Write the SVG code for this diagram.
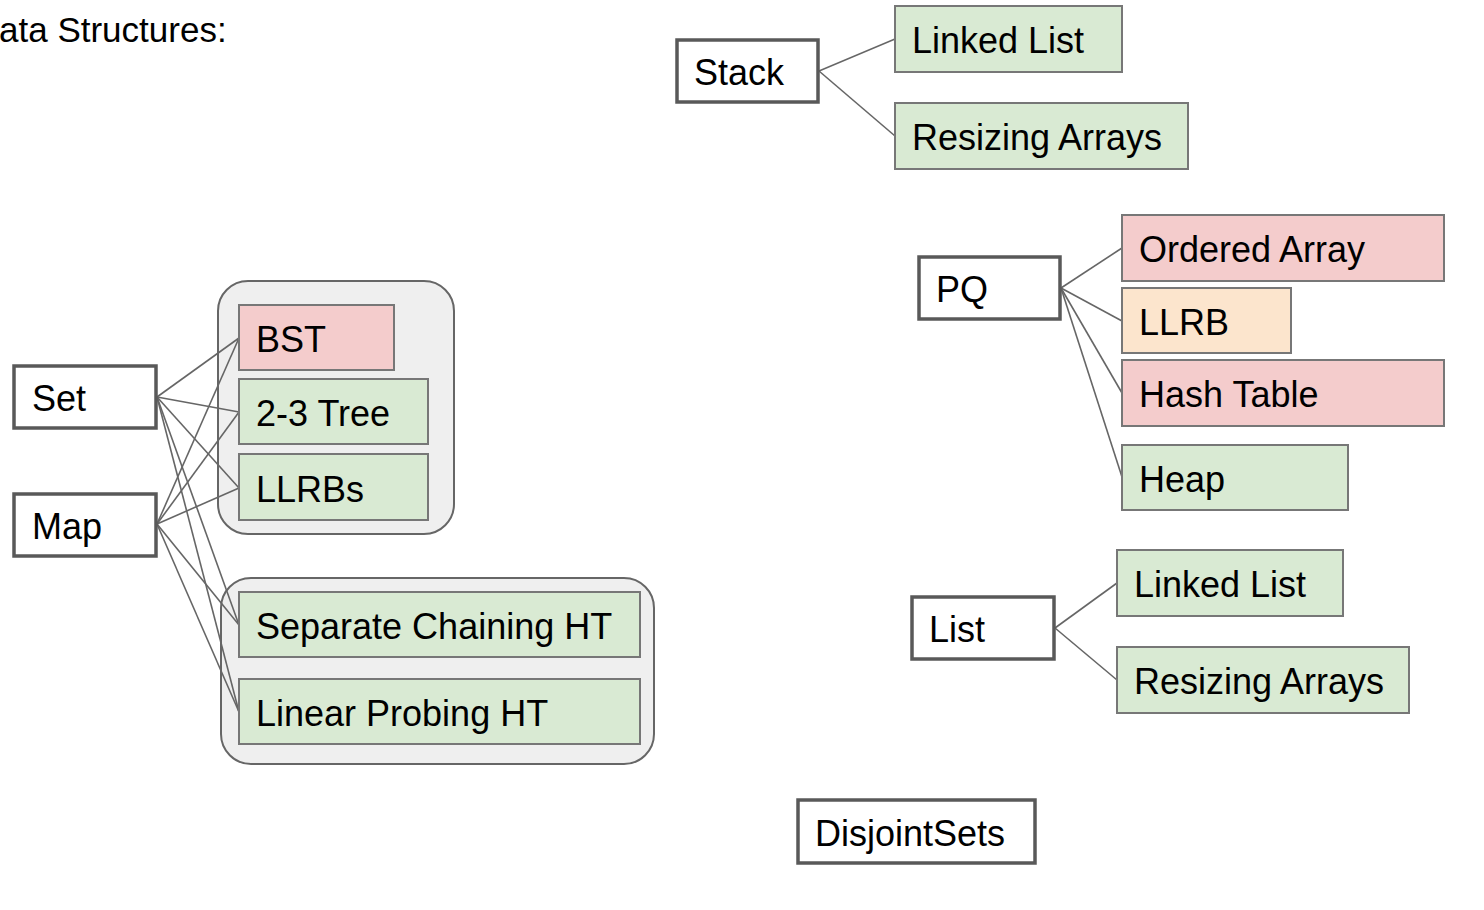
<svg xmlns="http://www.w3.org/2000/svg" width="1484" height="910" viewBox="0 0 1484 910">
<style>
text{font-family:"Liberation Sans",Arial,sans-serif;font-size:36px;fill:#000}
.main{fill:#fff;stroke:#595959;stroke-width:3.5}
.red{fill:#f4cccc;stroke:#777;stroke-width:2}
.green{fill:#d9ead3;stroke:#777;stroke-width:2}
.orange{fill:#fce5cd;stroke:#777;stroke-width:2}
.grp{fill:#efefef;stroke:#666;stroke-width:2}
.conn line{stroke:#666;stroke-width:1.6}
</style>
<rect width="1484" height="910" fill="#fff"/>
<text x="-1" y="42" style="font-size:35px">ata Structures:</text>
<g id="group-trees"><rect class="grp" x="218" y="281" width="236" height="253" rx="30"/></g>
<g id="group-hash"><rect class="grp" x="221" y="578" width="433" height="186" rx="30"/></g>
<g class="conn" id="connectors">
<line x1="157" y1="397" x2="239" y2="338"/>
<line x1="157" y1="397" x2="239" y2="412"/>
<line x1="157" y1="397" x2="239" y2="488"/>
<line x1="157" y1="397" x2="239" y2="625"/>
<line x1="157" y1="397" x2="239" y2="712"/>
<line x1="157" y1="524" x2="239" y2="338"/>
<line x1="157" y1="524" x2="239" y2="412"/>
<line x1="157" y1="524" x2="239" y2="488"/>
<line x1="157" y1="524" x2="239" y2="625"/>
<line x1="157" y1="524" x2="239" y2="712"/>
<line x1="819" y1="71" x2="895" y2="39"/>
<line x1="819" y1="71" x2="895" y2="136"/>
<line x1="1061" y1="288" x2="1122" y2="248"/>
<line x1="1061" y1="288" x2="1122" y2="321"/>
<line x1="1061" y1="288" x2="1122" y2="393"/>
<line x1="1061" y1="288" x2="1122" y2="477"/>
<line x1="1055" y1="628" x2="1117" y2="583"/>
<line x1="1055" y1="628" x2="1117" y2="680"/>
</g>
<g id="set"><rect class="main" x="14" y="366" width="142" height="62"/><text x="32" y="411">Set</text></g>
<g id="map"><rect class="main" x="14" y="494" width="142" height="62"/><text x="32" y="539">Map</text></g>
<g id="bst"><rect class="red" x="239" y="305" width="155" height="65"/><text x="256" y="352">BST</text></g>
<g id="tree23"><rect class="green" x="239" y="379" width="189" height="65"/><text x="256" y="426">2-3 Tree</text></g>
<g id="llrbs"><rect class="green" x="239" y="454" width="189" height="66"/><text x="256" y="502">LLRBs</text></g>
<g id="schain"><rect class="green" x="239" y="592" width="401" height="65"/><text x="256" y="639">Separate Chaining HT</text></g>
<g id="lprobe"><rect class="green" x="239" y="679" width="401" height="65"/><text x="256" y="726">Linear Probing HT</text></g>
<g id="stack"><rect class="main" x="677" y="40" width="141" height="62"/><text x="694" y="85">Stack</text></g>
<g id="stack-ll"><rect class="green" x="895" y="6" width="227" height="66"/><text x="912" y="53">Linked List</text></g>
<g id="stack-ra"><rect class="green" x="895" y="103" width="293" height="66"/><text x="912" y="150">Resizing Arrays</text></g>
<g id="pq"><rect class="main" x="919" y="257" width="141" height="62"/><text x="936" y="302">PQ</text></g>
<g id="ordered"><rect class="red" x="1122" y="215" width="322" height="66"/><text x="1139" y="262">Ordered Array</text></g>
<g id="llrb"><rect class="orange" x="1122" y="288" width="169" height="65"/><text x="1139" y="335">LLRB</text></g>
<g id="hashtable"><rect class="red" x="1122" y="360" width="322" height="66"/><text x="1139" y="407">Hash Table</text></g>
<g id="heap"><rect class="green" x="1122" y="445" width="226" height="65"/><text x="1139" y="492">Heap</text></g>
<g id="list"><rect class="main" x="912" y="597" width="142" height="62"/><text x="929" y="642">List</text></g>
<g id="list-ll"><rect class="green" x="1117" y="550" width="226" height="66"/><text x="1134" y="597">Linked List</text></g>
<g id="list-ra"><rect class="green" x="1117" y="647" width="292" height="66"/><text x="1134" y="694">Resizing Arrays</text></g>
<g id="disjoint"><rect class="main" x="798" y="800" width="237" height="63"/><text x="815" y="846">DisjointSets</text></g>
</svg>
